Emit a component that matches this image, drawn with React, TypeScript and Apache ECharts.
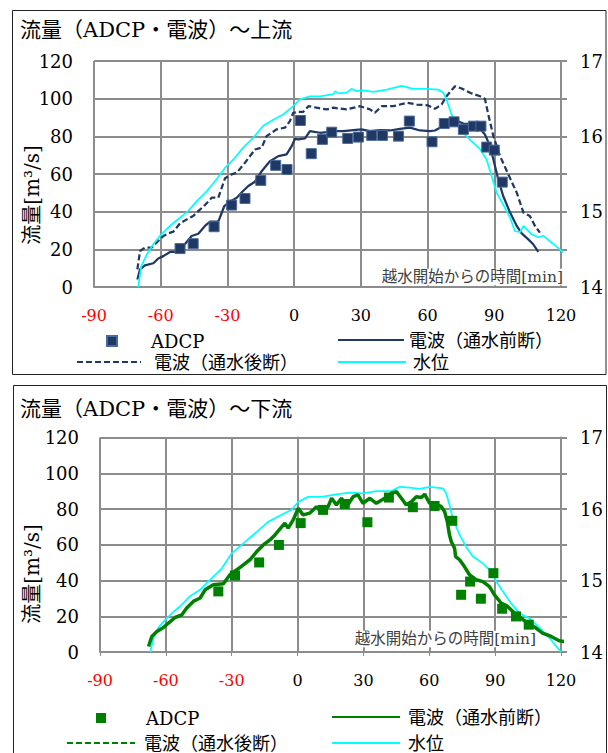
import React, { useEffect, useRef } from 'react';
import * as echarts from 'echarts';

// ---------- data ----------
const xTicks = [-90, -60, -30, 0, 30, 60, 90, 120];

// 上流 (upstream)
const upAdcpTime = [-51.3, -45.4, -36.0, -28.1, -22.1, -15.0, -8.3, -3.2, 2.8, 7.7, 12.7, 16.9, 24.1, 28.9, 34.9, 39.7, 46.9, 51.8, 62.0, 67.5, 71.9, 76.1, 80.6, 84.0, 86.6, 90.0, 93.6];
const upAdcpFlow = [20.4, 23.0, 32.0, 43.5, 47.0, 56.6, 64.6, 62.4, 88.4, 70.8, 78.4, 82.2, 78.9, 79.6, 80.5, 80.5, 80.1, 88.1, 77.1, 86.8, 87.7, 83.7, 85.4, 85.4, 74.3, 72.7, 55.7];

const upPreTime = [-70.5, -69.3, -67.1, -63.3, -61.1, -58.8, -55.8, -53.6, -49.8, -46.1, -43.1, -40.1, -37.8, -34.1, -31.4, -29.2, -25.8, -23.3, -20.6, -17.6, -14.6, -10.9, -7.1, -3.4, -1.1, 0.4, 1.9, 4.9, 7.1, 11.6, 14.6, 18.4, 22.1, 26.6, 30.3, 34.1, 38.6, 43.1, 47.6, 52.1, 56.6, 61.1, 63.3, 65.6, 69.3, 72.3, 76.1, 80.6, 83.6, 85.8, 88.1, 89.6, 91.8, 94.0, 97.1, 100.1, 102.3, 105.3, 107.5, 109.8];
const upPreFlow = [4.0, 9.4, 11.5, 12.6, 15.1, 16.4, 18.6, 18.6, 21.8, 27.1, 28.3, 32.4, 34.7, 34.7, 43.0, 45.1, 47.4, 50.6, 53.6, 55.9, 61.5, 66.8, 69.5, 70.4, 74.8, 78.7, 78.4, 78.9, 82.8, 81.9, 82.2, 82.8, 82.8, 83.3, 83.7, 82.8, 83.3, 83.1, 84.0, 84.6, 83.1, 82.8, 83.1, 84.6, 87.2, 88.6, 86.8, 86.3, 84.0, 81.0, 74.8, 67.7, 57.1, 48.3, 39.5, 32.4, 28.5, 25.3, 22.7, 18.6];

const upPostTime = [-70.5, -69.3, -67.1, -64.1, -61.1, -58.8, -56.6, -54.3, -51.3, -48.3, -45.4, -43.1, -40.1, -37.1, -34.1, -31.1, -28.1, -25.8, -22.1, -17.6, -14.6, -12.4, -7.9, -4.1, -1.9, -0.4, 1.9, 4.1, 6.4, 10.1, 14.6, 17.6, 23.6, 29.6, 34.1, 36.3, 39.4, 44.6, 50.6, 55.1, 60.3, 63.3, 66.3, 68.5, 72.3, 75.3, 79.8, 83.6, 85.8, 87.3, 89.6, 92.6, 96.3, 100.1, 103.1, 106.0, 108.3, 110.5];
const upPostFlow = [9.4, 19.1, 20.9, 20.9, 24.4, 27.1, 28.5, 29.4, 33.8, 35.9, 37.7, 40.3, 43.5, 47.4, 47.4, 57.7, 59.8, 60.7, 66.0, 73.0, 74.0, 80.1, 83.7, 84.6, 88.1, 92.5, 93.0, 93.0, 96.0, 95.2, 94.3, 95.2, 94.3, 96.0, 94.3, 92.5, 96.0, 96.0, 97.8, 96.9, 96.4, 94.6, 96.9, 101.3, 106.6, 105.4, 102.8, 101.3, 99.9, 91.6, 80.1, 69.5, 59.8, 50.1, 39.5, 37.7, 32.4, 28.9];

const upLevelTime = [-70.1, -68.7, -66.3, -63.3, -60.3, -57.3, -54.3, -51.3, -47.6, -43.8, -39.3, -34.9, -31.1, -27.4, -22.9, -18.4, -13.9, -9.4, -4.9, -0.4, 2.6, 7.1, 11.6, 17.6, 18.5, 20.0, 23.6, 25.8, 28.1, 31.1, 35.6, 41.6, 48.4, 53.6, 59.6, 64.8, 67.1, 68.5, 70.8, 74.5, 79.0, 83.6, 86.6, 88.8, 91.1, 94.8, 97.1, 99.3, 101.6, 103.1, 106.8, 109.8, 112.1, 116.6, 121.0];
const upLevel = [14.0, 14.28, 14.43, 14.57, 14.68, 14.77, 14.85, 14.92, 15.01, 15.14, 15.27, 15.43, 15.58, 15.69, 15.85, 15.98, 16.14, 16.22, 16.29, 16.40, 16.49, 16.53, 16.53, 16.56, 16.60, 16.57, 16.58, 16.63, 16.60, 16.61, 16.59, 16.62, 16.67, 16.63, 16.63, 16.62, 16.58, 16.49, 16.29, 16.09, 15.96, 15.83, 15.69, 15.47, 15.25, 15.05, 14.92, 14.74, 14.73, 14.81, 14.70, 14.66, 14.68, 14.57, 14.46];

// 下流 (downstream)
const dnAdcpTime = [-36.1, -28.5, -17.5, -8.5, 1.4, 11.6, 21.5, 31.8, 41.6, 52.5, 62.4, 70.5, 74.5, 78.6, 83.5, 89.2, 93.2, 99.5, 105.3];
const dnAdcpFlow = [33.9, 42.8, 50.1, 59.9, 72.1, 79.5, 82.8, 72.6, 86.4, 81.0, 81.7, 73.4, 32.0, 39.4, 29.8, 44.1, 24.2, 19.9, 15.3];

const dnPreTime = [-67.9, -66.4, -64.1, -61.1, -58.8, -55.8, -52.7, -50.5, -47.5, -44.4, -42.1, -38.4, -33.8, -30.8, -27.7, -24.7, -21.7, -18.6, -15.6, -12.6, -10.3, -8.0, -5.8, -4.3, -2.0, 0.3, 2.5, 5.6, 8.6, 10.9, 13.9, 15.5, 17.7, 20.0, 22.3, 25.3, 27.5, 29.8, 32.9, 35.9, 39.7, 42.7, 45.0, 47.3, 49.5, 51.8, 54.1, 56.4, 57.9, 60.1, 62.4, 65.5, 67.0, 68.2, 69.2, 70.0, 71.5, 72.0, 73.8, 76.0, 78.3, 81.4, 84.4, 87.4, 89.7, 92.7, 95.7, 98.8, 101.8, 104.8, 108.6, 111.6, 115.5, 119.2, 121.5];
const dnPreFlow = [3.1, 8.7, 11.5, 13.7, 16.2, 19.3, 20.8, 24.6, 28.3, 30.2, 34.8, 37.6, 38.2, 43.2, 46.0, 48.8, 51.6, 56.2, 59.9, 62.7, 65.5, 68.9, 72.1, 69.3, 73.9, 80.4, 76.7, 77.7, 81.3, 78.2, 81.3, 86.0, 82.3, 86.0, 81.3, 86.9, 87.9, 83.2, 86.0, 83.2, 86.0, 88.8, 89.7, 86.0, 82.3, 84.1, 86.9, 86.4, 88.3, 83.2, 83.2, 81.3, 78.5, 73.0, 65.5, 61.8, 58.1, 53.4, 51.6, 47.8, 43.2, 40.4, 39.4, 36.6, 32.0, 27.4, 25.5, 21.8, 19.0, 16.2, 13.4, 10.6, 8.7, 6.3, 5.9];

const dnLevelTime = [-67.1, -65.6, -63.4, -60.3, -57.3, -53.5, -49.0, -44.4, -39.9, -34.5, -30.0, -23.9, -18.6, -13.4, -7.3, -2.7, 0.3, 4.8, 10.9, 16.9, 23.8, 29.8, 35.9, 42.7, 46.5, 51.0, 55.6, 60.1, 66.2, 67.7, 69.2, 70.7, 73.8, 76.8, 79.8, 84.4, 87.4, 90.5, 93.5, 97.3, 101.1, 105.6, 110.1, 114.7, 119.2, 120.0];
const dnLevel = [14.0, 14.20, 14.34, 14.45, 14.54, 14.64, 14.78, 14.87, 15.01, 15.17, 15.38, 15.54, 15.68, 15.82, 15.92, 15.99, 16.10, 16.17, 16.17, 16.20, 16.23, 16.22, 16.25, 16.25, 16.31, 16.30, 16.28, 16.31, 16.29, 16.22, 16.06, 15.87, 15.64, 15.47, 15.34, 15.24, 15.15, 14.99, 14.85, 14.68, 14.54, 14.47, 14.34, 14.20, 14.03, 14.0];

// ---------- styles ----------
const SERIF = "'DejaVu Serif', 'Noto Sans CJK JP', serif";
const GRIDC = '#8c8c8c';
const NAVY = '#1f3864';
const GREEN = '#008000';
const CYAN = '#00ffff';

const zip = (a: number[], b: number[]) => a.map((v, i) => [v, b[i]]);
const stripName = (n: string) => n.split('#')[0];

function xAxisFor(gridIndex: number, withTicks: boolean) {
  return {
    gridIndex, type: 'value', min: -90, max: 120, interval: 30,
    axisLine: { show: true, lineStyle: { color: GRIDC, width: 2 } },
    axisTick: { show: withTicks, length: 4, lineStyle: { color: GRIDC, width: 1 } },
    splitLine: { show: true, lineStyle: { color: GRIDC, width: 2 } },
    axisLabel: {
      margin: 20, fontSize: 16, fontFamily: SERIF,
      color: (v: any) => (Number(v) < 0 ? '#ff0000' : '#000000'),
      customValues: xTicks,
    },
  };
}
function yLeft(gridIndex: number) {
  return {
    gridIndex, type: 'value', min: 0, max: 120, interval: 20, position: 'left',
    axisLine: { show: true, lineStyle: { color: GRIDC, width: 2 } },
    axisTick: { show: false },
    splitLine: { show: true, lineStyle: { color: GRIDC, width: 2 } },
    axisLabel: { margin: 21, fontSize: 18, fontFamily: SERIF, color: '#000' },
  };
}
function yRight(gridIndex: number) {
  return {
    gridIndex, type: 'value', min: 14, max: 17, interval: 0.5, position: 'right',
    axisLine: { show: true, lineStyle: { color: GRIDC, width: 2 } },
    axisTick: { show: true, inside: false, length: 6, lineStyle: { color: GRIDC, width: 2 } },
    splitLine: { show: false },
    axisLabel: {
      margin: 19, fontSize: 18, fontFamily: SERIF, color: '#000',
      formatter: (v: number) => (Math.abs(v - Math.round(v)) < 1e-6 ? String(Math.round(v)) : ''),
    },
  };
}

function legendItem(name: string, left: number, centerY: number, itemWidth: number, itemHeight: number, padLeft: number, hideSymbol: boolean) {
  const item: any = {
    data: [name], left, top: centerY - 10, itemWidth, itemHeight, padding: 0,
    selectedMode: false, formatter: stripName,
    textStyle: { fontSize: 18, fontFamily: SERIF, color: '#000', lineHeight: 20, padding: [0, 0, 0, padLeft] },
  };
  if (hideSymbol) item.itemStyle = { opacity: 0 };
  return item;
}

function vText(text: string, x: number, y: number) {
  return {
    type: 'text', x, y, rotation: Math.PI / 2, z: 5,
    style: { text, x: 0, y: 0, align: 'center', verticalAlign: 'middle', font: `20px ${SERIF}`, fill: '#000' },
  };
}
function noteText(x: number, y: number) {
  return {
    type: 'text', x, y, z: 1, zlevel: 0,
    style: {
      text: '越水開始からの時間[min]', x: 0, y: 0, align: 'right', verticalAlign: 'middle',
      font: `15.5px ${SERIF}`, fill: '#404040', backgroundColor: '#ffffff', padding: [1, 2, 0, 2],
    },
  };
}

export default function App() {
  const ref = useRef<HTMLDivElement>(null);
  useEffect(() => {
    if (!ref.current) return;
    const chart = echarts.init(ref.current, undefined, { renderer: 'svg' });
    const option: any = {
      animation: false,
      backgroundColor: '#ffffff',
      title: [
        { text: '流量（ADCP・電波）～上流', left: 20, top: 18, padding: 0,
          textStyle: { fontSize: 21, fontWeight: 'normal', fontFamily: SERIF, color: '#000', lineHeight: 24 } },
        { text: '流量（ADCP・電波）～下流', left: 20, top: 397, padding: 0,
          textStyle: { fontSize: 21, fontWeight: 'normal', fontFamily: SERIF, color: '#000', lineHeight: 24 } },
      ],
      grid: [
        { left: 94, top: 61, width: 467, height: 226, containLabel: false },
        { left: 100, top: 437.5, width: 461, height: 214.5, containLabel: false },
      ],
      xAxis: [xAxisFor(0, false), xAxisFor(1, true)],
      yAxis: [yLeft(0), yRight(0), yLeft(1), yRight(1)],
      legend: [
        legendItem('ADCP', 106, 341, 10, 10, 29, false),
        legendItem('電波（通水前断）', 337, 340, 66, 14, 0, true),
        legendItem('電波（通水後断）', 76, 362, 64, 14, 8, true),
        legendItem('水位', 337, 362, 68, 14, 2, true),
        legendItem('ADCP#2', 96, 718, 10, 10, 35, false),
        legendItem('電波（通水前断）#2', 331, 717, 68, 14, 3, true),
        legendItem('電波（通水後断）#2', 66, 743, 68, 14, 4, true),
        legendItem('水位#2', 331, 743, 68, 14, 3, true),
      ],
      graphic: [
        { type: 'rect', shape: { x: 12.5, y: 10.5, width: 593.5, height: 364 }, style: { fill: 'none', stroke: '#222', lineWidth: 1 }, z: 10 },
        { type: 'rect', shape: { x: 13.5, y: 385.5, width: 593, height: 400 }, style: { fill: 'none', stroke: '#222', lineWidth: 1 }, z: 10 },
        vText('流量[m³/s]', 31.7, 195),
        vText('流量[m³/s]', 31.7, 574),
        noteText(565, 277),
        noteText(538, 639),
      ],
      series: [
        { name: '電波（通水後断）', type: 'line', xAxisIndex: 0, yAxisIndex: 0, data: zip(upPostTime, upPostFlow),
          symbol: 'none', showSymbol: false, lineStyle: { color: NAVY, width: 2.25, type: [6, 3] }, itemStyle: { color: NAVY }, z: 3 },
        { name: '電波（通水前断）', type: 'line', xAxisIndex: 0, yAxisIndex: 0, data: zip(upPreTime, upPreFlow),
          symbol: 'none', showSymbol: false, lineStyle: { color: NAVY, width: 2.25 }, itemStyle: { color: NAVY }, z: 3 },
        { name: '水位', type: 'line', xAxisIndex: 0, yAxisIndex: 1, data: zip(upLevelTime, upLevel), clip: false,
          symbol: 'none', showSymbol: false, lineStyle: { color: CYAN, width: 1.75 }, itemStyle: { color: CYAN }, z: 3 },
        { name: 'ADCP', type: 'scatter', xAxisIndex: 0, yAxisIndex: 0, data: zip(upAdcpTime, upAdcpFlow),
          symbol: 'rect', symbolSize: 10, itemStyle: { color: NAVY, borderColor: '#4a6a9a', borderWidth: 1, opacity: 1 }, z: 4 },

        { name: '電波（通水後断）#2', type: 'line', xAxisIndex: 1, yAxisIndex: 2, data: [],
          symbol: 'none', showSymbol: false, lineStyle: { color: GREEN, width: 2.25, type: [6, 3] }, itemStyle: { color: GREEN }, z: 3 },
        { name: '水位#2', type: 'line', xAxisIndex: 1, yAxisIndex: 3, data: zip(dnLevelTime, dnLevel), clip: false,
          symbol: 'none', showSymbol: false, lineStyle: { color: CYAN, width: 1.75 }, itemStyle: { color: CYAN }, z: 3 },
        { name: '電波（通水前断）#2', type: 'line', xAxisIndex: 1, yAxisIndex: 2, data: zip(dnPreTime, dnPreFlow), clip: false,
          symbol: 'none', showSymbol: false, lineStyle: { color: GREEN, width: 3.5 }, itemStyle: { color: GREEN }, z: 3 },
        { name: 'ADCP#2', type: 'scatter', xAxisIndex: 1, yAxisIndex: 2, data: zip(dnAdcpTime, dnAdcpFlow),
          symbol: 'rect', symbolSize: 10, itemStyle: { color: GREEN, opacity: 1 }, z: 4 },
      ],
    };
    chart.setOption(option);
    return () => chart.dispose();
  }, []);
  return <div ref={ref} style={{ position: 'absolute', left: 0, top: 0, width: 608, height: 753, background: '#fff' }} />;
}
